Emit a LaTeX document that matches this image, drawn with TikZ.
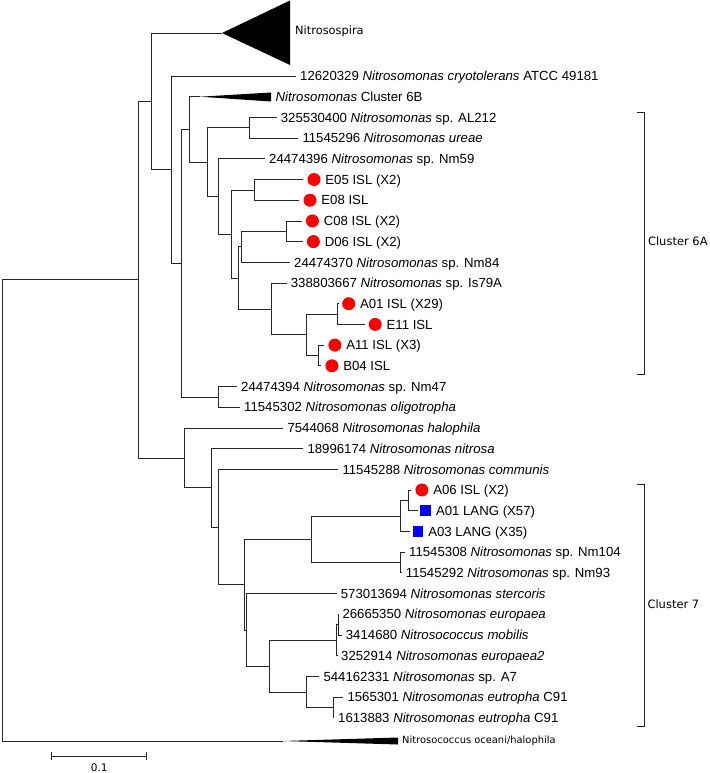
\documentclass[tikz,border=0pt]{standalone}
\usepackage{fontspec}
\setmainfont{Liberation Sans}
\newfontfamily\megafont{DejaVu Sans}
\usepackage{xcolor}
\usetikzlibrary{positioning}

\tikzset{
  branch/.style={line width=0.8pt, black!85},
  tiplab/.style={inner sep=0pt, text height=9.4pt, text depth=0pt, font=\fontsize{13.2}{15}\selectfont},
  isl/.style={circle, fill=red, minimum size=13pt, inner sep=0pt},
  lang/.style={rectangle, fill=blue, minimum size=10.7pt, inner sep=0pt},
  clade/.style={inner sep=0pt, font=\megafont\fontsize{11.5}{13}\selectfont},
}

\begin{document}
\begin{tikzpicture}[x=1pt,y=-1pt]
\useasboundingbox (0,0) rectangle (709,773);

% internal nodes
\coordinate (root) at (2,510);
\coordinate (nAll) at (138,279.7);
\coordinate (nB) at (151,101.3);
\coordinate (nC) at (171,169.6);
\coordinate (nD) at (181,263.1);
\coordinate (nE) at (189,129.4);
\coordinate (nF) at (207,162.1);
\coordinate (nG) at (249,127.8);
\coordinate (nH) at (218,196.3);
\coordinate (nI) at (231.7,233.9);
\coordinate (nJ) at (254.3,189.9);
\coordinate (nK) at (238.3,277.9);
\coordinate (nL) at (241,246.8);
\coordinate (nCD) at (286.7,231.3);
\coordinate (nM) at (271.7,308.9);
\coordinate (nN) at (306,334.8);
\coordinate (nO) at (337.7,314);
\coordinate (nP) at (318.3,355.5);
\coordinate (n47) at (218.7,396.9);
\coordinate (nC7) at (184.3,457.9);
\coordinate (nQ) at (211.7,487.8);
\coordinate (nS) at (218.3,527);
\coordinate (nT) at (244.5,584.7);
\coordinate (nT2) at (246,630.3);
\coordinate (nU) at (311,539);
\coordinate (nW) at (400,516);
\coordinate (nX) at (408.3,500.4);
\coordinate (nNm) at (400,562.5);
\coordinate (nV) at (269.3,666);
\coordinate (nEu) at (336.7,640.1);
\coordinate (nEu2) at (338,624.6);
\coordinate (nZ) at (306,691.9);
\coordinate (nZZ) at (333.3,707.4);

% tips
\foreach \n/\x/\y in {tSpira/222/33, tCryo/296/76, t6B/200/96.7, tAL212/276.7/117.4,
    tUreae/298.3/138.1, tNm59/265/158.8, tE05/303.3/179.5, tE08/299.3/200.2,
    tC08/301.7/220.9, tD06/302.7/241.6, tNm84/290/262.3, tIs79A/286.7/283,
    tA01/338/303.7, tE11/364.5/324.4, tA11/324.2/345.1, tB04/321.2/365.8,
    tNm47/237/386.5, tOligo/240/407.2, tHalo/283.3/427.9, tNitrosa/303.3/448.6,
    tComm/338.3/469.3, tA06/411.2/490, tA01L/417.7/510.7, tA03L/410/531.4,
    tNm104/405/552.1, tNm93/401.7/572.8, tSterc/336.7/593.5, tEuro/338.3/614.2,
    tMob/341.7/634.9, tEuro2/337/655.6, tA7/319.3/676.3, tEut1/343.3/697,
    tEut2/334/717.7, tOce/283/741}
  \coordinate (\n) at (\x,\y);

% branches
\foreach \p/\c in {root/nAll, root/tOce, nAll/nB, nAll/nC7, nB/tSpira, nB/nC,
    nC/tCryo, nC/nD, nD/nE, nD/n47, nE/t6B, nE/nF, nF/nG, nF/nH,
    nG/tAL212, nG/tUreae, nH/tNm59, nH/nI, nI/nJ, nI/nK, nJ/tE05, nJ/tE08,
    nK/nL, nK/nM, nL/nCD, nL/tNm84, nCD/tC08, nCD/tD06, nM/tIs79A, nM/nN,
    nN/nO, nN/nP, nO/tA01, nO/tE11, nP/tA11, nP/tB04, n47/tNm47, n47/tOligo,
    nC7/tHalo, nC7/nQ, nQ/tNitrosa, nQ/nS, nS/tComm, nS/nT, nT/nU, nT/nT2,
    nT2/tSterc, nT2/nV, nU/nW, nU/nNm, nW/nX, nW/tA03L, nX/tA06, nX/tA01L,
    nNm/tNm104, nNm/tNm93, nV/nEu, nV/nZ, nEu/nEu2, nEu/tEuro2,
    nEu2/tEuro, nEu2/tMob, nZ/tA7, nZ/nZZ, nZZ/tEut1, nZZ/tEut2}
  \draw[branch] (\p) |- (\c);

% collapsed clades
\coordinate (wSpira) at (290,31);
\fill (tSpira) -- (290,0.5) -- (290,65) -- cycle;
\node[clade, font=\megafont\fontsize{11.4}{13}\selectfont, right=5pt of wSpira] (lSpira) {Nitrosospira};

\coordinate (w6B) at (271,97);
\fill (t6B) -- (271,92.5) -- (271,101.5) -- cycle;
\node[tiplab, right=4.5pt of w6B] (l6B) {\textit{Nitrosomonas} Cluster 6B};

\coordinate (wOce) at (398,741);
\fill (tOce) -- (398,737.5) -- (398,744.5) -- cycle;
\node[clade, font=\megafont\fontsize{9.9}{12}\selectfont, right=4pt of wOce] (lOce) {Nitrosococcus oceani/halophila};

% sequences
\foreach \t/\txt in {tCryo/12620329 \textit{Nitrosomonas cryotolerans} ATCC 49181,
    tAL212/325530400 \textit{Nitrosomonas} sp. AL212,
    tUreae/11545296 \textit{Nitrosomonas ureae},
    tNm59/24474396 \textit{Nitrosomonas} sp. Nm59,
    tNm84/24474370 \textit{Nitrosomonas} sp. Nm84,
    tIs79A/338803667 \textit{Nitrosomonas} sp. Is79A,
    tNm47/24474394 \textit{Nitrosomonas} sp. Nm47,
    tOligo/11545302 \textit{Nitrosomonas oligotropha},
    tHalo/7544068 \textit{Nitrosomonas halophila},
    tNitrosa/18996174 \textit{Nitrosomonas nitrosa},
    tComm/11545288 \textit{Nitrosomonas communis},
    tNm104/11545308 \textit{Nitrosomonas} sp. Nm104,
    tNm93/11545292 \textit{Nitrosomonas} sp. Nm93,
    tSterc/573013694 \textit{Nitrosomonas stercoris},
    tEuro/26665350 \textit{Nitrosomonas europaea},
    tMob/3414680 \textit{Nitrosococcus mobilis},
    tEuro2/3252914 \textit{Nitrosomonas europaea2},
    tA7/544162331 \textit{Nitrosomonas} sp. A7,
    tEut1/1565301 \textit{Nitrosomonas eutropha} C91,
    tEut2/1613883 \textit{Nitrosomonas eutropha} C91}
  \node[tiplab, right=4pt of \t] (l\t) {\txt};

% clones
\foreach \t/\txt in {tE05/E05 ISL (X2), tE08/E08 ISL, tC08/C08 ISL (X2),
    tD06/D06 ISL (X2), tA01/A01 ISL (X29), tE11/E11 ISL, tA11/A11 ISL (X3),
    tB04/B04 ISL, tA06/A06 ISL (X2)}{
  \node[isl, right=4pt of \t] (m\t) {};
  \node[tiplab, right=4.5pt of m\t] (l\t) {\txt};
}
\foreach \t/\txt in {tA01L/A01 LANG (X57), tA03L/A03 LANG (X35)}{
  \node[lang, right=2.5pt of \t] (m\t) {};
  \node[tiplab, right=4.5pt of m\t] (l\t) {\txt};
}

% clusters
\coordinate (c6Atop) at (644.3,112.7);
\coordinate (c6Abot) at (644.3,374.3);
\coordinate (c6Amid) at (644.3,241);
\draw[line width=0.8pt, black!85] ([xshift=-7.6pt]c6Atop) -- (c6Atop) -- (c6Abot) -- ([xshift=-7.6pt]c6Abot);
\node[clade, right=3.5pt of c6Amid] (l6A) {Cluster 6A};

\coordinate (c7top) at (644.3,484);
\coordinate (c7bot) at (644.3,726.7);
\coordinate (c7mid) at (644.3,604);
\draw[line width=0.8pt, black!85] ([xshift=-7.6pt]c7top) -- (c7top) -- (c7bot) -- ([xshift=-7.6pt]c7bot);
\node[clade, right=3pt of c7mid] (l7) {Cluster 7};

% scale
\coordinate (s0) at (51.7,756);
\coordinate (s1) at (146.7,756);
\draw[branch] (s0) -- (s1);
\draw[branch] ([yshift=4pt]s0) -- ([yshift=-4pt]s0);
\draw[branch] ([yshift=4pt]s1) -- ([yshift=-4pt]s1);
\node[clade, font=\megafont\fontsize{10.5}{12}\selectfont] (lscale) at (99.2,767.7) {0.1};

\end{tikzpicture}
\end{document}
